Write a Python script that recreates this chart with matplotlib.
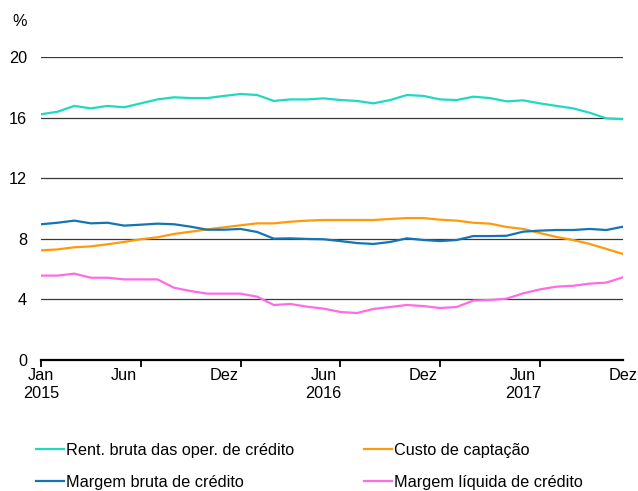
import numpy as np
import matplotlib
matplotlib.use('Agg')
import matplotlib.pyplot as plt

plt.rcParams['font.family'] = ['Liberation Sans', 'DejaVu Sans']

# monthly data, Jan 2015 .. Dez 2017
rent_bruta = [16.22, 16.39, 16.77, 16.61, 16.77, 16.68, 16.94, 17.20, 17.34, 17.29,
              17.29, 17.43, 17.56, 17.49, 17.10, 17.20, 17.20, 17.27, 17.16, 17.10,
              16.94, 17.16, 17.49, 17.43, 17.20, 17.16, 17.38, 17.29, 17.07, 17.14,
              16.94, 16.77, 16.61, 16.32, 15.95, 15.89]
custo = [7.24, 7.30, 7.44, 7.50, 7.64, 7.79, 7.97, 8.10, 8.32, 8.47,
         8.62, 8.76, 8.89, 9.02, 9.02, 9.13, 9.20, 9.24, 9.24, 9.24,
         9.24, 9.31, 9.37, 9.37, 9.26, 9.20, 9.06, 9.00, 8.78, 8.65,
         8.38, 8.12, 7.92, 7.66, 7.33, 7.00]
margem_bruta = [8.96, 9.06, 9.20, 9.02, 9.06, 8.87, 8.93, 9.00, 8.96, 8.80,
                8.60, 8.60, 8.65, 8.45, 8.01, 8.03, 7.99, 7.97, 7.85, 7.72,
                7.66, 7.79, 8.03, 7.92, 7.85, 7.92, 8.18, 8.18, 8.20, 8.47,
                8.54, 8.58, 8.58, 8.65, 8.58, 8.80]
margem_liquida = [5.57, 5.57, 5.70, 5.43, 5.43, 5.32, 5.32, 5.32, 4.77, 4.55,
                  4.38, 4.38, 4.38, 4.18, 3.63, 3.70, 3.52, 3.39, 3.17, 3.10,
                  3.37, 3.50, 3.63, 3.56, 3.43, 3.50, 3.92, 3.96, 4.05, 4.40,
                  4.66, 4.84, 4.90, 5.04, 5.11, 5.46]

series_names = ['Rent. bruta das oper. de crédito', 'Custo de captação',
                'Margem bruta de crédito', 'Margem líquida de crédito']
colors = ['#1fd9c1', '#ff9a0d', '#1474b4', '#ff6be3']

label_pos = [0, 5, 11, 17, 23, 29, 35]
label_txt = ['Jan\n2015', 'Jun', 'Dez', 'Jun\n2016', 'Dez', 'Jun\n2017', 'Dez']
yticks = [0, 4, 8, 12, 16, 20]

fs = 11.7
x = np.arange(len(rent_bruta))

fig = plt.figure(figsize=(6.38, 4.91), dpi=100)
ax = fig.add_axes([41/638, 1-360/491, (623-41)/638, (360-57)/491])

for yv in yticks[1:]:
    ax.axhline(yv, color='#3a3a3a', lw=0.9, zorder=1)

handles = []
for data, c, name in zip([rent_bruta, custo, margem_bruta, margem_liquida], colors, series_names):
    h, = ax.plot(x, data, color=c, lw=1.6, label=name, zorder=3)
    handles.append(h)

ax.set_xlim(0, 35)
ax.set_ylim(0, 20)
for s in ['top', 'right', 'left']:
    ax.spines[s].set_visible(False)
ax.spines['bottom'].set_linewidth(1.6)
ax.spines['bottom'].set_color('black')

ax.set_yticks(yticks)
ax.tick_params(axis='y', length=0, pad=10, labelsize=fs)

ax.xaxis.remove_overlapping_locs = False
ax.set_xticks(np.arange(0, 36, 6))
ax.set_xticklabels([])
ax.tick_params(axis='x', which='major', length=5, width=1.3, direction='out')
ax.set_xticks(label_pos, minor=True)
ax.set_xticklabels(label_txt, minor=True, fontsize=fs)
ax.tick_params(axis='x', which='minor', length=0, pad=6)

fig.text(20/638, 1-22/491, '%', fontsize=fs, ha='center', va='center')

fig.legend(handles=[handles[0], handles[2], handles[1], handles[3]],
           labels=[series_names[0], series_names[2], series_names[1], series_names[3]],
           ncol=2, loc='upper left', bbox_to_anchor=(36/638, 1-443/491),
           frameon=False, fontsize=fs, handlelength=1.7, handletextpad=0.15,
           columnspacing=4.3, labelspacing=1.05, borderpad=0, borderaxespad=0)

fig.savefig('out.png', dpi=100)
